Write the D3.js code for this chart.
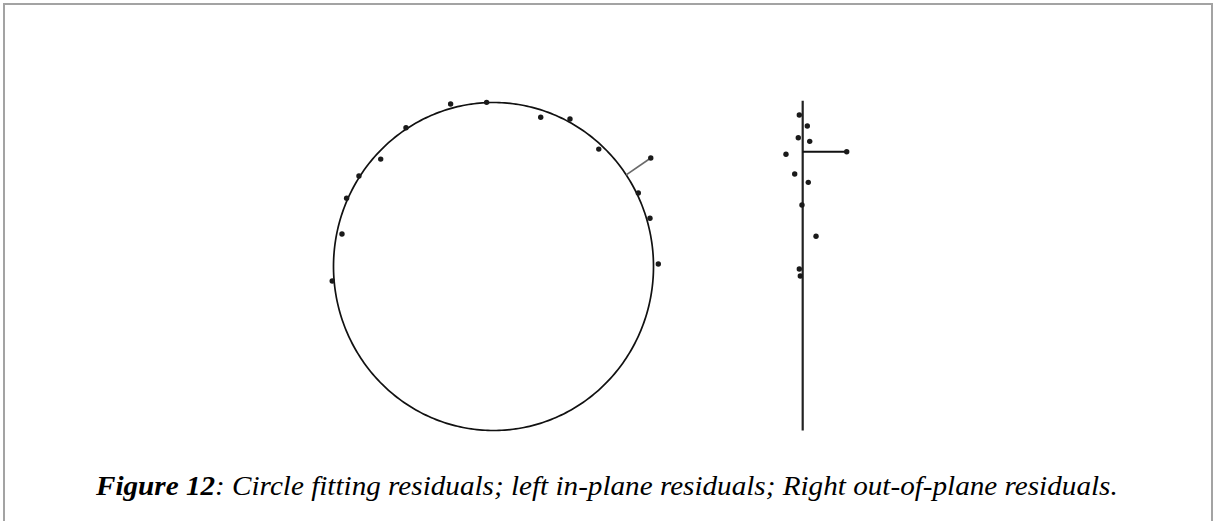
<!DOCTYPE html>
<html>
<head>
<meta charset="utf-8">
<script src="https://cdn.jsdelivr.net/npm/d3@7"></script>
<style>
  html, body { margin: 0; padding: 0; background: #fff; }
  svg { display: block; }
</style>
</head>
<body>
<svg id="chart" width="1216" height="521"></svg>
<script>
// In-plane measured points (normalised to fitted circle: centre 0,0, radius 1)
const inPlaneX = [-0.268, -0.043, 0.295, 0.478, -0.547, -0.705, -0.841, -0.918, -0.947, -1.008, 0.658, 0.983, 0.905, 0.978, 1.030];
const inPlaneY = [0.991, 1.001, 0.910, 0.899, 0.846, 0.655, 0.552, 0.416, 0.198, -0.088, 0.716, 0.662, 0.448, 0.294, 0.015];
const inPlaneHighlight = 11;

// Out-of-plane residuals (offset from plane) and position along the plane
const outPlaneOffset = [-0.085, 0.115, -0.110, 0.175, -0.418, 1.100, -0.200, 0.140, -0.018, 0.333, -0.085, -0.060];
const outPlaneY = [0.924, 0.857, 0.785, 0.763, 0.684, 0.700, 0.564, 0.513, 0.375, 0.184, -0.015, -0.058];
const outPlaneHighlight = 5;

const captionBold = "Figure 12";
const captionRest = ": Circle fitting residuals; left in-plane residuals; Right out-of-plane residuals.";

const svg = d3.select("#chart");

// frame
svg.append("path")
  .attr("d", "M4,525 L4,4 L1212,4 L1212,525")
  .attr("fill", "none").attr("stroke", "#a3a3a3").attr("stroke-width", 2);

const x = d3.scaleLinear().domain([-1, 1]).range([333.5, 653.5]);
const y = d3.scaleLinear().domain([-1, 1]).range([430.5, 102.5]);
const xo = d3.scaleLinear().domain([-1, 1]).range([762.7, 842.7]);

// fitted circle
const angles = d3.range(0, 361, 1).map(a => a * Math.PI / 180);
svg.append("path")
  .datum(angles)
  .attr("d", d3.line().x(a => x(Math.cos(a))).y(a => y(Math.sin(a))))
  .attr("fill", "none").attr("stroke", "#111").attr("stroke-width", 1.7);

// highlighted in-plane residual
{
  const px = inPlaneX[inPlaneHighlight], py = inPlaneY[inPlaneHighlight];
  const r = Math.hypot(px, py);
  svg.append("line")
    .attr("x1", x(px)).attr("y1", y(py))
    .attr("x2", x(px / r)).attr("y2", y(py / r))
    .attr("stroke", "#6a6a6a").attr("stroke-width", 1.7);
}

svg.append("g").selectAll("circle")
  .data(inPlaneX.map((v, i) => [v, inPlaneY[i]]))
  .join("circle")
  .attr("cx", d => x(d[0])).attr("cy", d => y(d[1]))
  .attr("r", 2.7).attr("fill", "#1a1a1a");

// out-of-plane axis
svg.append("line")
  .attr("x1", xo(0)).attr("x2", xo(0))
  .attr("y1", y(1.01)).attr("y2", y(-1))
  .attr("stroke", "#222").attr("stroke-width", 2.2);

svg.append("line")
  .attr("x1", xo(0)).attr("x2", xo(outPlaneOffset[outPlaneHighlight]))
  .attr("y1", y(outPlaneY[outPlaneHighlight])).attr("y2", y(outPlaneY[outPlaneHighlight]))
  .attr("stroke", "#111").attr("stroke-width", 2);

svg.append("g").selectAll("circle")
  .data(outPlaneOffset.map((v, i) => [v, outPlaneY[i]]))
  .join("circle")
  .attr("cx", d => xo(d[0])).attr("cy", d => y(d[1]))
  .attr("r", 2.7).attr("fill", "#1a1a1a");

// caption
const capX = 96, capY = 494.5;
const cap = svg.append("text")
  .attr("x", 0).attr("y", 0)
  .attr("font-family", "'Liberation Serif', 'Times New Roman', serif")
  .attr("font-size", 27).attr("font-style", "italic").attr("fill", "#000");
cap.append("tspan").attr("font-weight", "bold").text(captionBold);
cap.append("tspan").text(captionRest);
const w = cap.node().getComputedTextLength();
const target = 1022;
cap.attr("transform", `translate(${capX},${capY}) scale(${target / w},1)`);
</script>
</body>
</html>
